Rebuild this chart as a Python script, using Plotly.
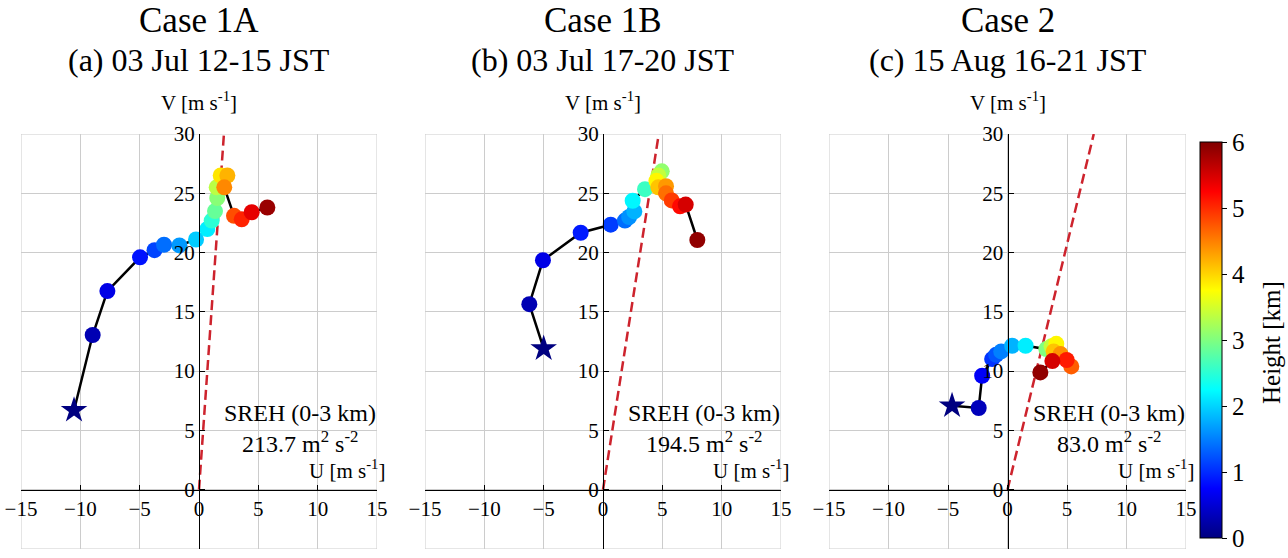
import plotly.graph_objects as go

# ---------------- data ----------------
CASE_TITLES = ["Case 1A", "Case 1B", "Case 2"]
SUB_TITLES = ["(a) 03 Jul 12-15 JST", "(b) 03 Jul 17-20 JST", "(c) 15 Aug 16-21 JST"]
SREH_VALUES = ["213.7", "194.5", "83.0"]

P1_U = [-10.53, -8.96, -7.72, -4.97, -3.75, -2.95, -1.65, -0.25, 0.70, 1.07, 1.35, 1.54, 1.49, 1.83, 2.39, 2.13, 2.95, 3.60, 4.44, 5.76]
P1_V = [6.7, 13.05, 16.75, 19.6, 20.2, 20.66, 20.6, 21.1, 21.98, 22.7, 23.5, 24.6, 25.5, 26.5, 26.5, 25.5, 23.1, 22.8, 23.4, 23.8]
P1_H = [0.0, 0.3, 0.6, 0.85, 1.15, 1.4, 1.65, 1.95, 2.15, 2.5, 2.85, 3.05, 3.35, 3.9, 4.2, 4.45, 4.8, 5.05, 5.4, 5.85]

P2_U = [-5.0, -6.21, -5.06, -1.88, 0.65, 1.85, 2.2, 2.64, 2.5, 3.54, 4.95, 4.66, 4.5, 4.66, 5.31, 5.31, 5.79, 6.49, 6.97, 7.95]
P2_V = [11.9, 15.65, 19.35, 21.67, 22.35, 22.7, 23.0, 23.47, 24.37, 25.35, 26.85, 26.5, 26.05, 25.5, 25.6, 25.0, 24.4, 23.9, 24.05, 21.06]
P2_H = [0.0, 0.3, 0.6, 0.9, 1.1, 1.4, 1.6, 1.8, 2.2, 2.6, 3.1, 3.4, 3.8, 4.1, 4.35, 4.6, 4.9, 5.2, 5.5, 5.9]

P3_U = [-4.66, -2.42, -2.13, -1.29, -0.95, -0.53, 0.39, 1.52, 3.26, 3.7, 4.1, 3.88, 4.46, 5.36, 4.97, 3.77, 2.76]
P3_V = [7.08, 6.89, 9.61, 11.02, 11.38, 11.66, 12.14, 12.14, 11.86, 12.1, 12.3, 11.66, 11.44, 10.4, 10.94, 10.85, 9.89]
P3_H = [0.0, 0.35, 0.7, 1.05, 1.25, 1.5, 1.8, 2.15, 3.0, 3.4, 3.8, 4.1, 4.4, 4.7, 5.1, 5.5, 5.9]

STORM_U = [2.1, 4.7, 7.25]   # dashed line end point (u) at v = 30
STORM_V = 30

X_TICKS = [-15, -10, -5, 0, 5, 10, 15]
Y_TICKS = [-5, 0, 5, 10, 15, 20, 25, 30]
CB_TICKS = [0, 1, 2, 3, 4, 5, 6]
CB_TITLE = "Height [km]"

PANELS = [(P1_U, P1_V, P1_H), (P2_U, P2_V, P2_H), (P3_U, P3_V, P3_H)]

# ---------------- layout constants ----------------
W, H = 1288, 558
FONT = "Liberation Serif"
XR = [-15, 15]
YR = [-5, 30]
X_PX = [(21, 377), (425, 781), (829, 1186)]
Y_PX = (134, 549)

JET = [[0.0, "rgb(0,0,128)"], [0.125, "rgb(0,0,255)"], [0.375, "rgb(0,255,255)"],
       [0.625, "rgb(255,255,0)"], [0.875, "rgb(255,0,0)"], [1.0, "rgb(128,0,0)"]]

ydom = [1 - Y_PX[1] / H, 1 - Y_PX[0] / H]
y0_paper = ydom[0] + (0 - YR[0]) / (YR[1] - YR[0]) * (ydom[1] - ydom[0])

fig = go.Figure()
layout = dict(
    width=W, height=H, margin=dict(l=0, r=0, t=0, b=0, autoexpand=False),
    paper_bgcolor="white", plot_bgcolor="white", showlegend=False,
    font=dict(family=FONT, color="black", size=20),
    coloraxis=dict(
        cmin=0, cmax=6, colorscale=JET,
        colorbar=dict(
            x=1200 / W, xanchor="left", xpad=0, ypad=0,
            y=(H - 538) / H, yanchor="bottom", len=396 / H, lenmode="fraction",
            thickness=22, thicknessmode="pixels",
            outlinewidth=1, outlinecolor="black",
            ticks="outside", ticklen=5, tickcolor="black", tickvals=CB_TICKS,
            tickprefix="\u00a0\u00a0\u00a0\u00a0\u00a0",
            tickfont=dict(family=FONT, size=25, color="black"),
        ),
    ),
)
annotations = []
shapes = []

for i, (u, v, h) in enumerate(PANELS):
    sfx = "" if i == 0 else str(i + 1)
    xname, yname = "x" + sfx, "y" + sfx
    xdom = [X_PX[i][0] / W, X_PX[i][1] / W]
    x0_paper = xdom[0] + (0 - XR[0]) / (XR[1] - XR[0]) * (xdom[1] - xdom[0])

    layout["xaxis" + sfx] = dict(
        domain=xdom, range=XR, anchor="free", position=y0_paper,
        tickvals=X_TICKS, ticks="inside", ticklen=5, tickcolor="black",
        showline=True, linecolor="black", linewidth=1.3,
        showgrid=True, gridcolor="#cccccc", gridwidth=1, zeroline=False,
        tickfont=dict(family=FONT, size=21, color="black"),
    )
    layout["yaxis" + sfx] = dict(
        domain=ydom, range=YR, anchor="free", position=x0_paper,
        tickvals=Y_TICKS, ticks="inside", ticklen=5, tickcolor="black",
        showline=True, linecolor="black", linewidth=1.3,
        showgrid=True, gridcolor="#cccccc", gridwidth=1, zeroline=False,
        tickfont=dict(family=FONT, size=21, color="black"),
    )

    shapes.append(dict(type="rect", xref=xname, yref=yname, x0=XR[0], x1=XR[1], y0=YR[0], y1=YR[1],
                       line=dict(color="#cccccc", width=1), layer="below"))

    # storm-relative dashed line
    fig.add_trace(go.Scatter(x=[0, STORM_U[i]], y=[0, STORM_V], mode="lines",
                             line=dict(color="rgb(205,35,45)", width=2.5, dash="10px,5px"),
                             xaxis=xname, yaxis=yname, hoverinfo="skip"))
    # hodograph line
    fig.add_trace(go.Scatter(x=u, y=v, mode="lines", line=dict(color="black", width=2.5),
                             xaxis=xname, yaxis=yname, hoverinfo="skip"))
    # coloured points
    fig.add_trace(go.Scatter(x=u[1:], y=v[1:], mode="markers",
                             marker=dict(size=16, color=h[1:], coloraxis="coloraxis", line=dict(width=0)),
                             xaxis=xname, yaxis=yname))
    # surface star
    fig.add_trace(go.Scatter(x=u[:1], y=v[:1], mode="markers",
                             marker=dict(size=20, symbol="star", color=h[:1], coloraxis="coloraxis", line=dict(width=0)),
                             xaxis=xname, yaxis=yname))

    # titles
    annotations.append(dict(text=CASE_TITLES[i], xref=xname, yref="paper", x=0, y=1 - 20 / H,
                            showarrow=False, xanchor="center", yanchor="middle",
                            font=dict(family=FONT, size=35, color="black")))
    annotations.append(dict(text=SUB_TITLES[i], xref=xname, yref="paper", x=0, y=1 - 60 / H,
                            showarrow=False, xanchor="center", yanchor="middle",
                            font=dict(family=FONT, size=32, color="black")))
    annotations.append(dict(text="V [m s<sup>-1</sup>]", xref=xname, yref="paper", x=0, y=1 - 101 / H,
                            showarrow=False, xanchor="center", yanchor="middle",
                            font=dict(family=FONT, size=21, color="black")))
    annotations.append(dict(text="U [m s<sup>-1</sup>]", xref=xname, yref=yname, x=15, y=1.7, xshift=10,
                            showarrow=False, xanchor="right", yanchor="middle",
                            font=dict(family=FONT, size=21, color="black")))
    annotations.append(dict(text="SREH (0-3 km)", xref=xname, yref=yname, x=8.5, y=6.5,
                            showarrow=False, xanchor="center", yanchor="middle",
                            font=dict(family=FONT, size=24, color="black")))
    annotations.append(dict(text=SREH_VALUES[i] + " m<sup>2</sup> s<sup>-2</sup>", xref=xname, yref=yname,
                            x=8.5, y=4.0, showarrow=False, xanchor="center", yanchor="middle",
                            font=dict(family=FONT, size=24, color="black")))

# colour bar title (rotated)
annotations.append(dict(text=CB_TITLE, xref="paper", yref="paper", x=1271 / W, y=1 - 343 / H,
                        textangle=-90, showarrow=False, xanchor="center", yanchor="middle",
                        font=dict(family=FONT, size=25, color="black")))

layout["annotations"] = annotations
layout["shapes"] = shapes
fig.update_layout(**layout)
fig.write_html("out.html")
